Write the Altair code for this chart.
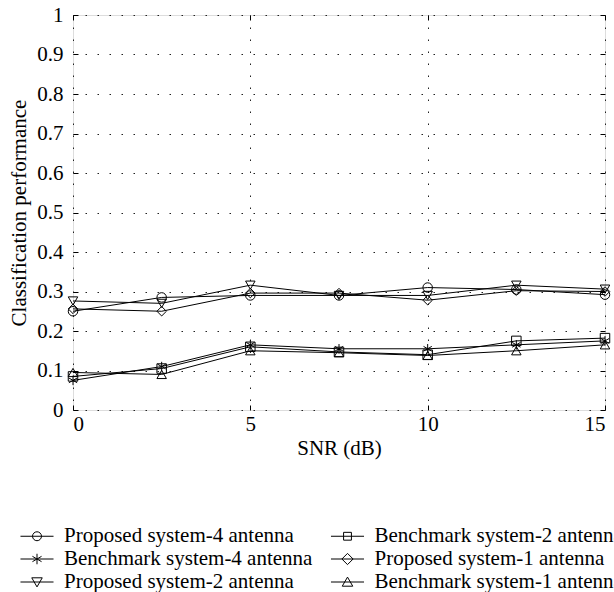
import altair as alt
import pandas as pd

# SNR sweep (dB)
snr = [0, 2.5, 5, 7.5, 10, 12.5, 15]

proposed_4 = [0.250, 0.285, 0.290, 0.290, 0.310, 0.305, 0.292]
benchmark_4 = [0.075, 0.110, 0.165, 0.155, 0.155, 0.165, 0.175]
proposed_2 = [0.276, 0.270, 0.316, 0.290, 0.290, 0.316, 0.306]
benchmark_2 = [0.085, 0.105, 0.160, 0.147, 0.140, 0.175, 0.182]
proposed_1 = [0.256, 0.250, 0.296, 0.296, 0.278, 0.302, 0.300]
benchmark_1 = [0.095, 0.090, 0.150, 0.145, 0.138, 0.150, 0.165]

names = [
    "Proposed system-4 antenna",
    "Benchmark system-4 antenna",
    "Proposed system-2 antenna",
    "Benchmark system-2 antenna",
    "Proposed system-1 antenna",
    "Benchmark system-1 antenna",
]
series = [proposed_4, benchmark_4, proposed_2, benchmark_2, proposed_1, benchmark_1]

rows = []
for name, vals in zip(names, series):
    for x, y in zip(snr, vals):
        rows.append({"snr": x, "perf": y, "system": name})
df = pd.DataFrame(rows)

star = "M0,-1V1M-0.87,-0.5L0.87,0.5M-0.87,0.5L0.87,-0.5"
plot_shapes = {
    names[0]: "circle",
    names[1]: star,
    names[2]: "triangle-down",
    names[3]: "square",
    names[4]: "diamond",
    names[5]: "triangle-up",
}
# legend glyphs: a short line with the marker on it (unit = half the symbol box)
legend_shapes = {
    names[0]: "M-2.36,0H2.36M0.64,0A0.64,0.64,0,1,1,-0.64,0A0.64,0.64,0,1,1,0.64,0",
    names[1]: "M-2.36,0H2.36M0,-0.75V0.75M-0.65,-0.38L0.65,0.38M-0.65,0.38L0.65,-0.38",
    names[2]: "M-2.36,0H2.36M-0.75,-0.6H0.75L0,0.7Z",
    names[3]: "M-2.36,0H2.36M-0.56,-0.56H0.56V0.56H-0.56Z",
    names[4]: "M-2.36,0H2.36M0,-0.8L0.8,0L0,0.8L-0.8,0Z",
    names[5]: "M-2.36,0H2.36M-0.75,0.6H0.75L0,-0.7Z",
}

FONT = "Liberation Serif"
FS = 21
xs = alt.Scale(domain=[0, 15], nice=False, zero=False)
ys = alt.Scale(domain=[0, 1], nice=False)
yticks = [round(i * 0.1, 1) for i in range(11)]
xticks = [0, 5, 10, 15]

grid_dash = [1.5, 10.5]
text_style = dict(labelFont=FONT, labelFontSize=FS, labelColor="black",
                  titleFont=FONT, titleFontSize=FS, titleColor="black",
                  titleFontWeight="normal")

main_x = alt.Axis(values=xticks, format="~g", grid=True, gridDash=grid_dash,
                  gridColor="#222", gridWidth=1, ticks=False, domain=False,
                  labelPadding=3, title="SNR (dB)", titlePadding=3, **text_style)
main_y = alt.Axis(values=yticks, format="~g", grid=True, gridDash=grid_dash,
                  gridColor="#222", gridWidth=1, ticks=False, domain=False,
                  labelPadding=10, title="Classification performance",
                  titlePadding=7, **text_style)


def tick_axis(orient):
    return alt.Axis(orient=orient, values=xticks if orient in ("top", "bottom") else yticks,
                    labels=False, grid=False, domain=False, ticks=True, tickSize=5,
                    tickColor="black", tickWidth=1, offset=-5, title=None)


lines = alt.Chart(df).mark_line(color="black", strokeWidth=1).encode(
    x=alt.X("snr:Q", scale=xs, axis=main_x),
    y=alt.Y("perf:Q", scale=ys, axis=main_y),
    detail="system:N",
)

points = alt.Chart(df).mark_point(filled=False, color="black", strokeWidth=1, size=90,
                                  opacity=1).encode(
    x=alt.X("snr:Q", scale=xs, axis=tick_axis("bottom")),
    y=alt.Y("perf:Q", scale=ys, axis=tick_axis("left")),
    shape=alt.Shape("system:N",
                    scale=alt.Scale(domain=names, range=[plot_shapes[n] for n in names]),
                    legend=None),
)

legend_layer = alt.Chart(df).mark_point(filled=False, color="black", strokeWidth=1,
                                        opacity=0).encode(
    x=alt.X("snr:Q", scale=xs, axis=tick_axis("top")),
    y=alt.Y("perf:Q", scale=ys, axis=tick_axis("right")),
    shape=alt.Shape(
        "system:N",
        scale=alt.Scale(domain=names, range=[legend_shapes[n] for n in names]),
        legend=alt.Legend(
            title=None, orient="none", legendX=-46.5, legendY=510.5,
            columns=2, columnPadding=15.5, rowPadding=1,
            symbolSize=196, symbolOpacity=1, symbolStrokeColor="black",
            symbolFillColor="transparent", symbolStrokeWidth=1,
            labelFont=FONT, labelFontSize=FS, labelColor="black", labelOffset=16.5,
            labelLimit=400,
        ),
    ),
)

chart = (
    alt.layer(lines, points, legend_layer)
    .resolve_scale(shape="independent")
    .resolve_axis(x="independent", y="independent")
    .properties(
        width=532, height=395,
        autosize=alt.AutoSizeParams(type="none"),
        padding={"left": 73, "top": 15, "right": 9, "bottom": 182},
    )
    .configure_view(stroke="black", strokeWidth=1)
    .configure(background="white")
)

chart.save("out.html", embed_options={"renderer": "svg", "actions": False})
